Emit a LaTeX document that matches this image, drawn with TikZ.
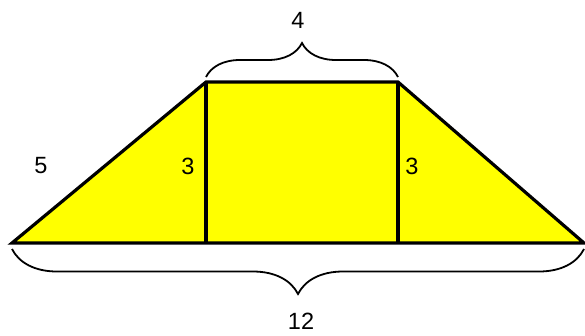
\documentclass[tikz,border=0pt]{standalone}
\usepackage{fontspec}
\setmainfont{Liberation Sans}
\usetikzlibrary{decorations.pathreplacing}
\definecolor{yel}{RGB}{255,255,0}
\begin{document}
\begin{tikzpicture}[x=1pt,y=-1pt,
  edge/.style={line width=3.2pt, line join=miter},
  bracestyle/.style={line width=1.8pt, decorate, decoration={brace, amplitude=#1}},
  lbl/.style={font=\fontsize{23.5}{23.5}\selectfont, inner sep=0pt}]
\useasboundingbox (0,0) rectangle (585,335);
\coordinate (A) at (12,243);
\coordinate (B) at (206,82);
\coordinate (C) at (398,82);
\coordinate (D) at (584,243);
\coordinate (E) at (206,243);
\coordinate (F) at (398,243);
\fill[yel] (A) -- (B) -- (C) -- (D) -- cycle;
\draw[edge] (A) -- (B) -- (C) -- (D) -- cycle;
\draw[edge] (B) -- (E);
\draw[edge] (C) -- (F);
\coordinate (t1) at (206,77);
\coordinate (t2) at (398,77);
\draw[bracestyle=34] (t1) -- (t2);
\coordinate (b1) at (584,249);
\coordinate (b2) at (12,249);
\draw[bracestyle=45] (b1) -- (b2);
\node[lbl] (l4) at (298,20) {4};
\node[lbl] (l12) at (301,321) {12};
\node[lbl] (l5) at (41,166) {5};
\node[lbl] (l3a) at (188,166) {3};
\node[lbl] (l3b) at (412,166) {3};
\end{tikzpicture}
\end{document}
